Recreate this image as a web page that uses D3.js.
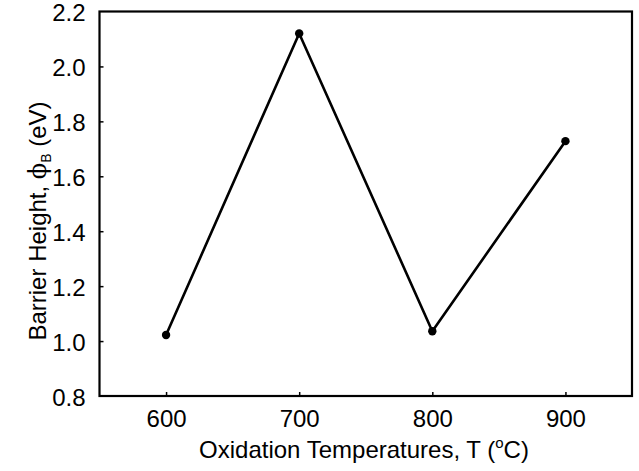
<!DOCTYPE html>
<html>
<head>
<meta charset="utf-8">
<script src="https://cdn.jsdelivr.net/npm/d3@7"></script>
<style>
  body { margin: 0; background: #fff; }
  svg { display: block; font-family: "Liberation Sans", Arial, sans-serif; }
</style>
</head>
<body>
<svg id="chart" width="639" height="471"></svg>
<script>
// Oxidation temperature (°C) vs barrier height (eV)
const temperatures = [600, 700, 800, 900];
const barrierHeight = [1.022, 2.12, 1.036, 1.728];
const xTicks = [600, 700, 800, 900];
const yTicks = [0.8, 1.0, 1.2, 1.4, 1.6, 1.8, 2.0, 2.2];

const W = 639, H = 471;
const FONT = 24;
const svg = d3.select("#chart");
const margin = { left: 99.5, right: W - 632, top: 11.5, bottom: H - 396 };

const x = d3.scaleLinear().domain([550, 950]).range([margin.left, W - margin.right]);
const y = d3.scaleLinear().domain([0.8, 2.2]).range([H - margin.bottom, margin.top]);

// Frame around the plot area
svg.append("rect")
  .attr("x", x(550)).attr("y", y(2.2))
  .attr("width", x(950) - x(550)).attr("height", y(0.8) - y(2.2))
  .attr("fill", "none").attr("stroke", "#000").attr("stroke-width", 2.2);

// Axes with short inward ticks
const xAxis = svg.append("g").attr("transform", `translate(0,${y(0.8)})`)
  .call(d3.axisBottom(x).tickValues(xTicks).tickSize(-4).tickPadding(14).tickFormat(d3.format("d")));
const yAxis = svg.append("g").attr("transform", `translate(${x(550)},0)`)
  .call(d3.axisLeft(y).tickValues(yTicks).tickSize(-4).tickPadding(14).tickFormat(d3.format(".1f")));

[xAxis, yAxis].forEach(g => {
  g.select(".domain").remove();
  g.selectAll(".tick line").attr("stroke", "#000").attr("stroke-width", 1.5);
  g.selectAll(".tick text").attr("font-size", FONT).attr("fill", "#000")
    .attr("font-family", "Liberation Sans, Arial, sans-serif");
});
// y labels sit a touch below their tick marks
yAxis.selectAll(".tick text").attr("y", 1.5);
yAxis.selectAll(".tick").filter(d => d === 0.8 || d === 2.2).select("line").remove();

// Connecting line and markers
const pts = temperatures.map((t, i) => [t, barrierHeight[i]]);
svg.append("path")
  .datum(pts)
  .attr("fill", "none").attr("stroke", "#000").attr("stroke-width", 2.6)
  .attr("stroke-linejoin", "round")
  .attr("d", d3.line().x(d => x(d[0])).y(d => y(d[1])));

svg.selectAll("circle.pt")
  .data(pts)
  .join("circle").attr("class", "pt")
  .attr("cx", d => x(d[0])).attr("cy", d => y(d[1])).attr("r", 4.2).attr("fill", "#000");

// X axis title
const xt = svg.append("text")
  .attr("x", 364).attr("y", 458)
  .attr("text-anchor", "middle").attr("font-size", FONT).attr("fill", "#000");
xt.append("tspan").text("Oxidation Temperatures, T (");
xt.append("tspan").attr("dy", -10).attr("font-size", 15).text("o");
xt.append("tspan").attr("dy", 10).text("C)");

// Y axis title
const yt = svg.append("text")
  .attr("transform", `translate(46,221) rotate(-90)`)
  .attr("text-anchor", "middle").attr("font-size", FONT).attr("fill", "#000");
yt.append("tspan").text("Barrier Height, ");
yt.append("tspan").attr("font-family", "DejaVu Serif").text("ϕ");
yt.append("tspan").attr("dy", 5).attr("font-size", 14).text("B");
yt.append("tspan").attr("dy", -5).text(" (eV)");
</script>
</body>
</html>
